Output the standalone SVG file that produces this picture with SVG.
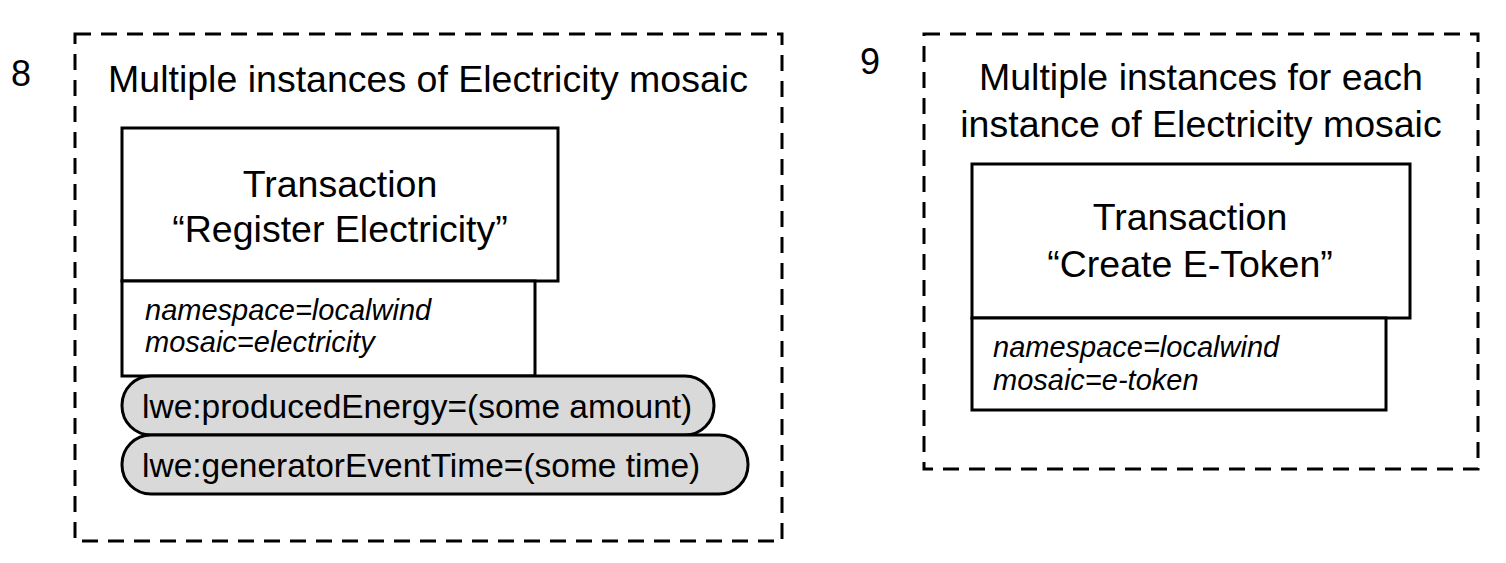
<svg xmlns="http://www.w3.org/2000/svg" width="1506" height="563" viewBox="0 0 1506 563">
<style>
text{font-family:"Liberation Sans",Arial,sans-serif;fill:#000}
.frame{fill:none;stroke:#000;stroke-width:3;stroke-dasharray:16 10}
.box{fill:#fff;stroke:#000;stroke-width:3}
.pill{fill:#d9d9d9;stroke:#000;stroke-width:3}
.big{font-size:37.5px}
.num{font-size:36px}
.it{font-size:29px;font-style:italic}
.pt{font-size:33.5px}
</style>
<rect width="1506" height="563" fill="#fff"/>
<g id="group8">
<rect class="frame" x="75" y="34" width="707" height="507"/>
<text class="num" x="11" y="86">8</text>
<text class="big" x="428" y="92" text-anchor="middle">Multiple instances of Electricity mosaic</text>
</g>
<g id="tx-register">
<rect class="box" x="122" y="128" width="436" height="153"/>
<text class="big" x="340" y="197" text-anchor="middle">Transaction</text>
<text class="big" x="340" y="242" text-anchor="middle">“Register Electricity”</text>
</g>
<g id="attrs-register">
<rect class="box" x="122" y="281" width="413" height="95"/>
<text class="it" x="145" y="320">namespace=localwind</text>
<text class="it" x="145" y="352">mosaic=electricity</text>
</g>
<g id="prop-energy">
<rect class="pill" x="122" y="376" width="592" height="59" rx="29"/>
<text class="pt" x="142" y="418">lwe:producedEnergy=(some amount)</text>
</g>
<g id="prop-time">
<rect class="pill" x="122" y="435" width="626" height="59" rx="29"/>
<text class="pt" x="142" y="477">lwe:generatorEventTime=(some time)</text>
</g>
<g id="group9">
<rect class="frame" x="924" y="34" width="554" height="435"/>
<text class="num" x="860" y="74">9</text>
<text class="big" x="1201" y="90" text-anchor="middle">Multiple instances for each</text>
<text class="big" x="1201" y="137" text-anchor="middle">instance of Electricity mosaic</text>
</g>
<g id="tx-etoken">
<rect class="box" x="972" y="164" width="438" height="154"/>
<text class="big" x="1190" y="230" text-anchor="middle">Transaction</text>
<text class="big" x="1190" y="277" text-anchor="middle">“Create E-Token”</text>
</g>
<g id="attrs-etoken">
<rect class="box" x="972" y="318" width="414" height="92"/>
<text class="it" x="993" y="357">namespace=localwind</text>
<text class="it" x="993" y="390">mosaic=e-token</text>
</g>
<g id="connectors"></g>
</svg>
